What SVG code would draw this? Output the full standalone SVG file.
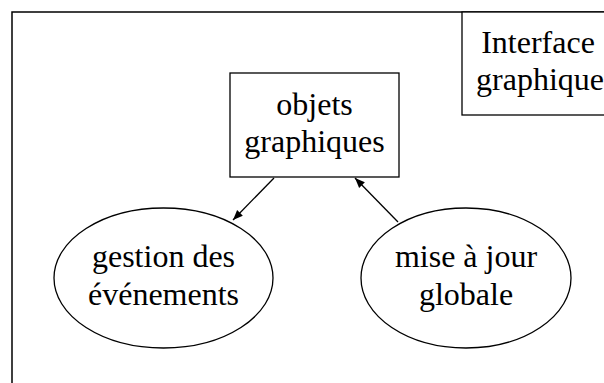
<svg xmlns="http://www.w3.org/2000/svg" width="604" height="383" viewBox="0 0 604 383">
<defs>
<style>
text{font-family:"Liberation Serif","Times New Roman",serif;font-size:32px;fill:#000;text-anchor:middle}
.node{fill:#fff;stroke:#000;stroke-width:1.3}
.edge{fill:none;stroke:#000;stroke-width:1.3}
</style>
<marker id="arr" markerUnits="userSpaceOnUse" markerWidth="12" markerHeight="9" refX="10" refY="4.5" orient="auto" viewBox="0 0 10 9">
<polygon points="0,0.5 10,4.5 0,8.5" fill="#000"/>
</marker>
</defs>
<rect width="604" height="383" fill="#fff"/>
<g id="cluster">
<rect x="12" y="12" width="620" height="400" fill="none" stroke="#000" stroke-width="1.5"/>
</g>
<g id="interface">
<rect class="node" x="462" y="12" width="160" height="103"/>
<text x="538" y="53">Interface</text>
<text x="540" y="90">graphique</text>
</g>
<g id="connectors">
<line class="edge" x1="274" y1="178" x2="233" y2="220" marker-end="url(#arr)"/>
<line class="edge" x1="398" y1="222" x2="355" y2="178" marker-end="url(#arr)"/>
</g>
<g id="objets">
<rect class="node" x="230" y="73" width="169" height="104"/>
<text x="314.5" y="115">objets</text>
<text x="314.5" y="152">graphiques</text>
</g>
<g id="gestion">
<ellipse class="node" cx="163.5" cy="278" rx="109.5" ry="70"/>
<text x="163.5" y="267">gestion des</text>
<text x="163.5" y="305">événements</text>
</g>
<g id="miseajour">
<ellipse class="node" cx="466" cy="278" rx="105" ry="70"/>
<text x="466" y="267">mise à jour</text>
<text x="466" y="305">globale</text>
</g>
</svg>
